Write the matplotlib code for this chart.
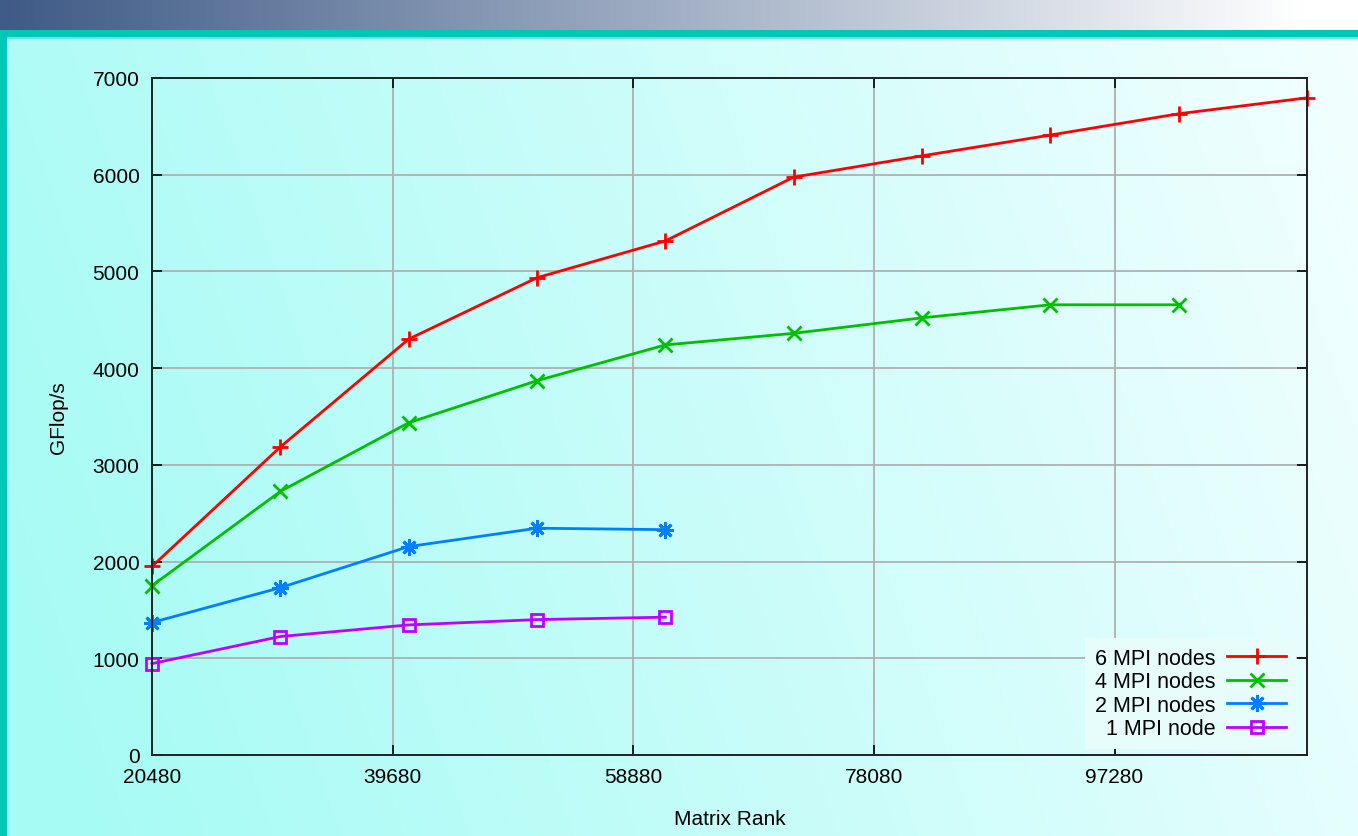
import matplotlib
matplotlib.use("Agg")
import matplotlib.pyplot as plt
import numpy as np
from matplotlib.colors import to_rgb
from matplotlib.patches import Rectangle

plt.rcParams["font.family"] = ["Liberation Sans", "DejaVu Sans"]

# Matrix rank (x) and measured GFlop/s per MPI configuration
rank = [20480, 30720, 40960, 51200, 61440, 71680, 81920, 92160, 102400, 112640]
gflops_6 = [1950, 3185, 4300, 4935, 5315, 5975, 6195, 6410, 6630, 6795]
gflops_4 = [1750, 2725, 3435, 3870, 4240, 4360, 4520, 4655, 4655]
gflops_2 = [1370, 1730, 2155, 2345, 2330]
gflops_1 = [945, 1225, 1345, 1400, 1425]

xticks = [20480, 39680, 58880, 78080, 97280]
yticks = list(range(0, 7001, 1000))

W, H = 1358, 837
fig = plt.figure(figsize=(W / 100, H / 100), dpi=100)

# slide-style background: cyan gradient panel
bg = fig.add_axes([0, 0, 1, 1], zorder=-10)
bg.set_axis_off()
gx, gy = np.meshgrid(np.linspace(0, 1, 400), np.linspace(0, 1, 300))
t = np.clip(0.85 * gx + 0.18 * (1 - gy) - 0.03, 0, 1) ** 1.1
c0 = np.array(to_rgb("#a6fbf5"))
c1 = np.array(to_rgb("#f4ffff"))
img = c0 * (1 - t[..., None]) + c1 * t[..., None]
bg.imshow(img, extent=[0, 1, 0, 1], aspect="auto", origin="upper")
bg.set_xlim(0, 1)
bg.set_ylim(0, 1)

# header bar gradient
head_h = 31 / H
hx = np.linspace(0, 1, 600)
ht = np.clip(hx / 0.96, 0, 1)
h0 = np.array(to_rgb("#3e5a86"))
h1 = np.array(to_rgb("#ffffff"))
himg = (h0 * (1 - ht[:, None]) + h1 * ht[:, None])[None, :, :]
bg.imshow(himg, extent=[0, 1, 1 - head_h, 1], aspect="auto")
bg.add_patch(Rectangle((0, 1 - 38 / H), 1, 7 / H, color="#00c8b6", lw=0))
bg.add_patch(Rectangle((0, 1 - 39.5 / H), 1, 1.5 / H, color="#6ee3d6", lw=0))
bg.add_patch(Rectangle((0, 0), 7 / W, 1 - 31 / H, color="#00c8b6", lw=0))

ax = fig.add_axes([152 / W, 1 - 756 / H, (1307 - 152) / W, (756 - 79) / H])
ax.set_facecolor("none")

lw = 2.0
ax.plot(rank, gflops_6, color="#ff0000", lw=lw, marker="+", ms=11, mew=2.0,
        label="6 MPI nodes", zorder=5, clip_on=False)
ax.plot(rank[:len(gflops_4)], gflops_4, color="#00c000", lw=lw, marker="x",
        ms=10, mew=2.0, label="4 MPI nodes", zorder=4, clip_on=False)
ax.plot(rank[:len(gflops_2)], gflops_2, color="#0080ff", lw=lw,
        marker=(8, 2, 0), ms=12, mew=2.0, label="2 MPI nodes", zorder=3,
        clip_on=False)
ax.plot(rank[:len(gflops_1)], gflops_1, color="#c000ff", lw=lw, marker="s",
        ms=9, mew=2.0, mfc="none", label="1 MPI node", zorder=2,
        clip_on=False)

ax.set_xlim(20480, 112640)
ax.set_ylim(0, 7000)
ax.set_xticks(xticks)
ax.set_yticks(yticks)
ax.grid(True, color="#b0b0b0", lw=1.3)
ax.set_axisbelow(True)
ax.tick_params(direction="in", length=7, width=1.2, top=True, right=True,
               labelsize=15, pad=9)
for s in ax.spines.values():
    s.set_linewidth(1.4)
    s.set_color("#222222")
    s.set_zorder(6)

ax.set_xlabel("Matrix Rank", fontsize=15, labelpad=16)
ax.set_ylabel("GFlop/s", fontsize=15, labelpad=18)

leg = ax.legend(loc="lower right", bbox_to_anchor=(1 - 11 / 1155, 6 / 677),
                fontsize=15.5, markerfirst=False, handlelength=2.75,
                handletextpad=0.55, labelspacing=0.12, borderpad=0.45,
                borderaxespad=0, fancybox=False, framealpha=1)
leg.get_frame().set_facecolor("#e6fdfc")
leg.get_frame().set_edgecolor("none")
for txt in leg.get_texts():
    txt.set_ha("right")
leg._legend_box.align = "right"

fig.savefig("out.png", dpi=100)
